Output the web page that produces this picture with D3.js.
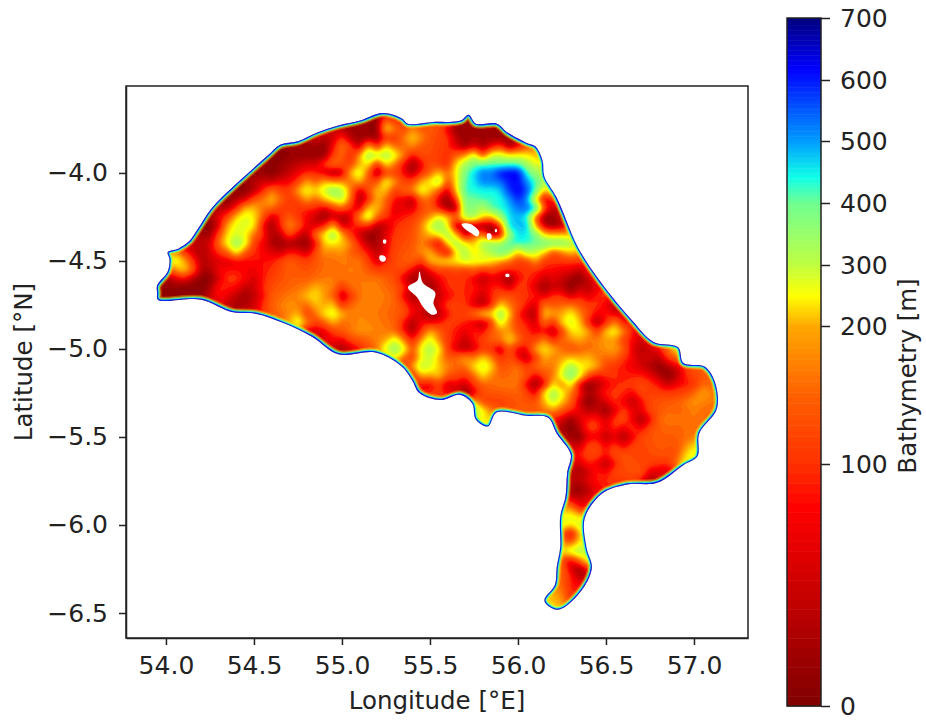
<!DOCTYPE html>
<html>
<head>
<meta charset="utf-8">
<script src="https://cdnjs.cloudflare.com/ajax/libs/d3/7.8.5/d3.min.js"></script>
<style>
  body { margin: 0; background: #fff; }
  text { font-family: "DejaVu Sans", sans-serif; fill: #222; }
  .tick text { font-size: 25px; }
  .axis-title { font-size: 24.5px; }
  .domain, .tick line { stroke: #222; stroke-width: 1.5px; }
</style>
</head>
<body>
<svg id="chart" width="926" height="722"></svg>
<script>
// Axis ticks
var lonTicks = [54.0, 54.5, 55.0, 55.5, 56.0, 56.5, 57.0];
var latTicks = [-4.0, -4.5, -5.0, -5.5, -6.0, -6.5];
var barTicks = [0, 100, 200, 300, 400, 500, 600, 700];

// Colour bar stops
var colorDepths = [0, 82, 100, 150, 200, 250, 300, 400, 442, 500, 618, 700];
var colorStops = ["#7f0000", "#ff0000", "#ff3000", "#ff6000", "#ffa800", "#ffff00", "#c0ff40", "#70ff90", "#10ffe8", "#009cff", "#0000ff", "#00007f"];

// Bank outline, lon and lat
var outlineLon = [53.95,53.95,54.01,54.02,54.01,54.07,54.13,54.18,54.26,54.38,54.49,54.58,54.65,54.75,54.86,54.98,55.11,55.23,55.34,55.375,55.52,55.61,55.68,55.72,55.76,55.88,55.94,56.05,56.10,56.14,56.15,56.22,56.34,56.47,56.65,56.77,56.91,56.94,57.06,57.12,57.13,57.03,57.02,56.94,56.79,56.62,56.48,56.38,56.39,56.42,56.37,56.26,56.21,56.15,56.21,56.22,56.24,56.24,56.27,56.28,56.30,56.22,56.17,56.05,55.88,55.83,55.76,55.74,55.67,55.56,55.44,55.40,55.34,55.19,54.98,54.83,54.66,54.51,54.375,54.20,53.955];
var outlineLat = [-4.68,-4.64,-4.56,-4.49,-4.45,-4.43,-4.39,-4.32,-4.20,-4.08,-3.98,-3.90,-3.84,-3.82,-3.77,-3.73,-3.70,-3.66,-3.69,-3.72,-3.71,-3.71,-3.70,-3.67,-3.72,-3.72,-3.77,-3.83,-3.85,-3.93,-4.02,-4.14,-4.42,-4.62,-4.84,-4.96,-4.99,-5.08,-5.10,-5.19,-5.34,-5.48,-5.61,-5.66,-5.76,-5.77,-5.82,-5.96,-6.13,-6.24,-6.36,-6.47,-6.48,-6.43,-6.34,-6.24,-6.125,-5.95,-5.84,-5.70,-5.60,-5.48,-5.39,-5.38,-5.36,-5.44,-5.40,-5.31,-5.26,-5.29,-5.25,-5.18,-5.10,-5.02,-5.03,-4.93,-4.85,-4.80,-4.79,-4.72,-4.72];

// Islands, left white in the map
var islands = [
  [[55.44,-4.56],[55.46,-4.625],[55.53,-4.68],[55.52,-4.74],[55.54,-4.795],[55.51,-4.805],[55.46,-4.76],[55.43,-4.71],[55.375,-4.65],[55.43,-4.61]],
  [[55.215,-4.47],[55.24,-4.47],[55.25,-4.49],[55.235,-4.505],[55.215,-4.495]],
  [[55.68,-4.29],[55.73,-4.29],[55.78,-4.335],[55.77,-4.36],[55.73,-4.34],[55.69,-4.31]],
  [[55.825,-4.345],[55.845,-4.345],[55.85,-4.37],[55.83,-4.38]],
  [[55.87,-4.32],[55.88,-4.32],[55.88,-4.335],[55.87,-4.335]],
  [[55.93,-4.575],[55.95,-4.575],[55.95,-4.59],[55.93,-4.59]],
  [[55.235,-4.38],[55.25,-4.38],[55.25,-4.4],[55.235,-4.4]]
];

// Depth readings in metres on a 0.1 degree grid. Each row starts at column rowStart
var gridLon0 = 53.9, gridLat0 = -3.6, gridStep = 0.1, gridCols = 34;
var rowStart = [12,12,9,7,5,4,3,2,2,1,1,0,4,9,11,14,15,16,18,23,24,24,23,23,23,23,23,23,23,23];
var depthRows = [
  [30,30,60],
  [30,20,100,140,150,140,30,30,40,70],
  [60,70,40,25,30,100,140,140,110,25,30,30,40,80],
  [25,20,20,20,130,40,280,220,140,130,100,200,200,240,260,180,180],
  [20,20,30,50,100,100,70,220,30,120,50,150,80,420,560,610,640,420,300],
  [25,25,60,130,110,190,200,300,50,220,110,200,170,40,420,450,470,590,420,300,200],
  [30,40,100,220,110,110,100,100,120,70,220,60,90,150,25,350,400,440,520,420,40,100],
  [40,20,100,260,220,40,140,70,50,70,100,40,100,130,220,350,10,240,20,480,70,25,100],
  [50,60,160,300,110,50,30,30,220,160,90,25,120,140,220,310,320,230,340,440,430,400,340,200],
  [150,180,50,60,70,90,90,150,120,160,170,170,60,130,160,220,190,250,280,200,130,110,100,110,110],
  [50,50,20,110,110,60,120,150,150,170,170,170,170,130,90,60,100,100,120,70,120,90,70,40,80,110],
  [40,15,15,20,90,60,60,150,160,200,220,150,170,180,160,70,40,110,100,70,130,110,100,110,100,90,110,100],
  [60,50,60,150,170,110,220,160,180,170,150,130,60,130,120,80,320,100,60,170,240,130,100,60,150],
  [50,70,150,190,180,160,140,210,110,70,130,170,130,80,120,220,170,200,100,70,150],
  [60,90,170,300,130,300,110,60,110,200,70,160,180,130,160,190,120,60,80,250],
  [100,90,270,180,130,270,130,170,170,170,310,220,120,90,60,40,60,150],
  [90,70,130,80,150,170,170,60,150,170,40,100,100,130,90,80,100,150],
  [130,120,40,120,120,140,140,280,160,30,110,110,120,140,150,160,170],
  [150,300,150,150,150,90,30,100,100,130,100,140,160,170,150],
  [50,50,130,110,90,130,150,150,170,170],
  [80,120,130,140,120,140,130,250],
  [60,80,120,130,140,70,60],
  [50,40,70,90,90],
  [280,90,100],
  [300,280,300],
  [280,100,280],
  [280,80,280],
  [170,110,50,120],
  [220,70,150],
  [250,200]
];

// Finer readings at 0.05 degree, lon, lat, depth
var details = [
  // north west, shallow patches
  [55.19,-3.74,10],[55.09,-3.77,20],[54.9,-3.87,10],[54.8,-3.85,20],[54.675,-3.92,10],[54.58,-4.0,10],[54.47,-4.10,10],[54.33,-4.17,10],[54.24,-4.32,10],
  [55.2,-3.81,20],[54.96,-3.98,15],[55.19,-3.98,15],[55.38,-3.97,20],[55.42,-4.15,30],[55.09,-4.13,30],[54.88,-4.27,15],[54.99,-4.27,25],[55.22,-4.28,30],[55.17,-4.34,15],
  [54.8,-4.38,15],[54.66,-4.42,20],[54.58,-4.29,25],[54.22,-4.475,30],[54.26,-4.36,20],[54.09,-4.66,5],[54.18,-4.65,5],[54.01,-4.66,15],[54.26,-4.61,10],
  [54.47,-4.68,20],[54.39,-4.76,30],[54.52,-4.72,50],[54.98,-4.72,40],[55.02,-4.99,30],[55.4,-4.88,30],
  // north west, deeper patches
  [54.98,-3.87,180],[54.94,-3.93,170],[55.16,-3.88,360],[55.26,-3.89,340],[55.26,-3.765,250],[55.39,-3.79,230],[55.08,-3.99,300],[55.225,-4.07,280],[55.43,-4.08,280],
  [54.96,-4.10,380],[54.91,-4.08,290],[55.0,-4.13,320],[54.81,-4.115,270],[54.62,-4.15,220],[55.15,-4.23,320],[54.47,-4.25,280],[54.39,-4.38,360],[54.45,-4.32,290],[54.35,-4.33,240],
  [54.95,-4.36,370],[54.885,-4.37,250],[55.0,-4.38,230],[54.695,-4.305,190],[55.55,-4.04,340],[55.55,-4.305,370],[54.12,-4.53,240],[54.04,-4.52,290],
  [54.68,-4.76,190],[54.83,-4.71,250],[54.94,-4.80,280],[54.9,-4.70,190],[55.51,-4.99,330],[55.3,-5.02,360],[55.45,-5.09,290],[54.75,-4.86,290],
  // basin
  [55.66,-3.745,15],[55.69,-3.84,20],[55.785,-3.87,25],[55.88,-3.80,15],[55.97,-3.84,15],[55.71,-3.935,330],[55.9,-3.925,300],[56.09,-3.92,220],
  [55.75,-3.95,400],[55.85,-3.95,420],[55.95,-3.95,430],[56.05,-3.95,340],[56.1,-3.95,270],[55.7,-4.0,400],[55.65,-4.0,250],
  [55.785,-4.02,540],[55.955,-4.01,640],[55.99,-4.08,640],[56.03,-4.21,550],[56.03,-4.285,500],[55.71,-4.08,440],[55.86,-4.17,430],
  [55.7,-4.2,380],[55.75,-4.25,350],[55.7,-4.25,330],[55.95,-4.25,470],[55.95,-4.3,480],[56.0,-4.35,470],[56.05,-4.35,450],[56.1,-4.35,400],[55.95,-4.4,440],[55.85,-4.42,370],[55.8,-4.42,340],[55.65,-4.4,350],
  [55.61,-4.17,15],[55.61,-4.1,40],[55.64,-4.2,10],[55.73,-4.32,5],[55.66,-4.32,10],[55.785,-4.32,10],[55.86,-4.305,15],[55.84,-4.36,5],[55.92,-4.345,50],[55.7,-4.35,20],[55.75,-4.38,40],
  [55.8,-4.25,230],[55.74,-4.41,220],[55.61,-4.275,260],[55.56,-4.39,30],[55.62,-4.47,30],[55.6,-4.34,350],[55.71,-4.455,340],[55.9,-4.455,420],[56.05,-4.42,440],[56.22,-4.41,400],
  [56.16,-4.27,10],[56.15,-4.17,40],[56.22,-4.32,10],[56.125,-4.32,40],
  // step along the south side of the basin
  [55.6,-4.5,260],[55.7,-4.5,300],[55.8,-4.5,280],[55.9,-4.5,200],[56.0,-4.5,120],[55.6,-4.55,110],[55.7,-4.55,110],[55.8,-4.55,100],[55.9,-4.55,100],[56.0,-4.55,100],[56.1,-4.45,300],[56.2,-4.45,120],
  // around the big islands
  [55.4,-4.6,20],[55.45,-4.55,30],[55.5,-4.65,20],[55.55,-4.7,50],[55.5,-4.8,20],[55.55,-4.8,40],[55.4,-4.7,30],
  // middle
  [55.78,-4.6,40],[55.94,-4.6,10],[56.125,-4.665,20],[56.33,-4.61,10],[56.28,-4.665,10],[56.39,-4.63,40],[55.775,-4.74,30],[55.775,-4.87,30],[55.405,-4.87,30],
  [55.89,-4.79,360],[55.82,-4.8,240],[55.97,-4.76,170],[56.09,-4.815,30],[56.2,-4.88,40],[56.17,-4.79,230],[56.3,-4.855,290],[56.35,-4.89,250],[56.53,-4.91,270],[56.43,-4.835,30],[56.56,-4.76,40],
  [55.94,-4.97,250],[55.72,-4.986,30],[55.88,-4.995,40],[56.05,-5.06,40],[56.16,-5.005,250],[56.57,-5.01,200],[56.69,-4.99,40],[55.785,-5.1,290],
  // south east
  [55.46,-5.11,320],[55.57,-5.13,230],[55.69,-5.06,200],[55.71,-5.24,20],[55.61,-5.195,50],[56.305,-5.14,390],[56.42,-5.08,250],[56.2,-5.26,350],[56.11,-5.205,20],[56.41,-5.21,10],[56.4,-5.28,10],
  [56.47,-5.21,40],[56.52,-5.36,15],[56.66,-5.28,40],[56.79,-5.12,15],[56.845,-5.14,10],[56.69,-5.40,30],[56.6,-5.5,30],[56.495,-5.5,40],[56.28,-5.45,5],[56.33,-5.5,10],[56.52,-5.66,40],[56.77,-5.735,30],[56.35,-5.78,15],[56.33,-5.71,30],
  [56.845,-5.385,170],[56.997,-5.29,190],[57.07,-5.27,200],[56.845,-5.555,140],[55.81,-5.4,250],[55.765,-5.365,370],[57.0,-5.59,280],[56.94,-5.63,260],
  // the narrow arm
  [56.3,-5.95,280],[56.35,-5.98,300],[56.305,-6.066,30],[56.35,-6.14,340],[56.28,-6.14,300],[56.37,-6.08,250],[56.35,-6.255,10],[56.295,-6.22,60],[56.26,-6.33,160],[56.315,-6.37,90],[56.19,-6.435,230],[56.24,-6.41,180],[56.33,-5.858,50]
];

// Define margins, the plot frame sits here in the 926x722 window
var margin = { top: 86, right: 178, bottom: 84, left: 126 },
    width = 926 - margin.left - margin.right,
    height = 722 - margin.top - margin.bottom;

// Define scales
var xScale = d3.scaleLinear().domain([53.773, 57.307]).range([0, width]);
var yScale = d3.scaleLinear().domain([-3.506, -6.642]).range([0, height]);
var color = d3.scaleLinear().domain(colorDepths).range(colorStops).clamp(true);

var svg = d3.select("#chart");
var plot = svg.append("g")
    .attr("transform", "translate(" + margin.left + "," + margin.top + ")");

// Fill the cells outside the bank so the edge does not pull the contours down
function buildGrid() {
    var rows = depthRows.length, g = new Array(rows * gridCols).fill(null);
    depthRows.forEach(function (row, j) {
        row.forEach(function (v, i) { g[j * gridCols + rowStart[j] + i] = v; });
    });
    for (var pass = 0; pass < 40; pass++) {
        var next = g.slice();
        for (var j = 0; j < rows; j++) for (var i = 0; i < gridCols; i++) {
            if (g[j * gridCols + i] !== null) continue;
            var near = [[i-1,j],[i+1,j],[i,j-1],[i,j+1]].filter(function (p) {
                return p[0] >= 0 && p[0] < gridCols && p[1] >= 0 && p[1] < rows;
            }).map(function (p) { return g[p[1] * gridCols + p[0]]; }).filter(function (v) { return v !== null; });
            if (near.length) next[j * gridCols + i] = d3.mean(near);
        }
        g = next;
    }
    return { w: gridCols, h: rows, v: g };
}

// Double the grid resolution, the new nodes sit between the readings
function doubleGrid(g) {
    var w = g.w * 2 - 1, h = g.h * 2 - 1, v = new Array(w * h);
    for (var j = 0; j < h; j++) for (var i = 0; i < w; i++) {
        var i0 = i >> 1, j0 = j >> 1, i1 = Math.min(i0 + (i & 1), g.w - 1), j1 = Math.min(j0 + (j & 1), g.h - 1);
        v[j * w + i] = (g.v[j0 * g.w + i0] + g.v[j0 * g.w + i1] + g.v[j1 * g.w + i0] + g.v[j1 * g.w + i1]) / 4;
    }
    return { w: w, h: h, v: v };
}

// A fine reading also pulls its four neighbours half way, patches are wider than one node
var half = doubleGrid(buildGrid());
var exact = new Map(), pulled = new Map();
details.forEach(function (d) {
    var i = Math.round((d[0] - gridLon0) / (gridStep / 2));
    var j = Math.round((gridLat0 - d[1]) / (gridStep / 2));
    exact.set(j * half.w + i, d[2]);
    [[i-1,j],[i+1,j],[i,j-1],[i,j+1]].forEach(function (p) {
        if (p[0] < 0 || p[0] >= half.w || p[1] < 0 || p[1] >= half.h) return;
        var n = p[1] * half.w + p[0];
        if (!pulled.has(n)) pulled.set(n, []);
        pulled.get(n).push(d[2]);
    });
});
pulled.forEach(function (vals, n) { half.v[n] = (half.v[n] + d3.mean(vals)) / 2; });
exact.forEach(function (v, n) { half.v[n] = v; });

var fine = doubleGrid(doubleGrid(half));
d3.blur2({ data: fine.v, width: fine.w, height: fine.h }, 0.8);
var fineStep = gridStep / 8;

// Contours in grid units, projected through the scales
var toScreen = d3.geoTransform({
    point: function (i, j) {
        this.stream.point(xScale(gridLon0 + (i - 0.5) * fineStep), yScale(gridLat0 - (j - 0.5) * fineStep));
    }
});
var contourPath = d3.geoPath(toScreen);
var levels = d3.range(0, 700, 10);
var contours = d3.contours().size([fine.w, fine.h]).thresholds(levels).smooth(true)(fine.v);

var outline = outlineLon.map(function (lon, k) { return [xScale(lon), yScale(outlineLat[k])]; });
var outlineLine = d3.line().curve(d3.curveCatmullRomClosed.alpha(0.5));
var outlinePath = outlineLine(outline);

svg.append("defs").append("clipPath").attr("id", "bank").append("path").attr("d", outlinePath);
var soft = svg.select("defs").append("filter").attr("id", "soft");
soft.append("feGaussianBlur").attr("stdDeviation", 0.6);

var map = plot.append("g").attr("clip-path", "url(#bank)");
map.append("g").attr("filter", "url(#soft)")
    .selectAll("path")
    .data(contours)
    .enter()
    .append("path")
    .attr("d", contourPath)
    .attr("fill", function (d) { return color(d.value); });

// Rim of the bank, the slope drops off fast from orange to blue
var rim = map.append("g").attr("filter", "url(#soft)");
[[9, 250, 0.3], [6.5, 340, 0.55], [4.5, 440, 0.8], [2.4, 620, 0.85]].forEach(function (r) {
    rim.append("path")
        .attr("d", outlinePath)
        .attr("fill", "none")
        .attr("stroke", color(r[1]))
        .attr("stroke-opacity", r[2])
        .attr("stroke-width", r[0]);
});

// Islands
var island = d3.line()
    .x(function (d) { return xScale(d[0]); })
    .y(function (d) { return yScale(d[1]); })
    .curve(d3.curveCatmullRomClosed);
plot.append("g").selectAll("path")
    .data(islands)
    .enter()
    .append("path")
    .attr("d", island)
    .attr("fill", "#fff");

// Frame and axes
plot.append("rect")
    .attr("width", width)
    .attr("height", height)
    .attr("fill", "none")
    .attr("stroke", "#222")
    .attr("stroke-width", 1.5);

plot.append("g")
    .attr("transform", "translate(0," + height + ")")
    .call(d3.axisBottom(xScale).tickValues(lonTicks).tickFormat(d3.format(".1f")).tickSize(7).tickSizeOuter(0).tickPadding(11));
plot.append("g")
    .call(d3.axisLeft(yScale).tickValues(latTicks).tickFormat(d3.format(".1f")).tickSize(7).tickSizeOuter(0).tickPadding(11));

svg.append("text")
    .attr("class", "axis-title")
    .attr("x", 437)
    .attr("y", 709)
    .attr("text-anchor", "middle")
    .text("Longitude [°E]");
svg.append("text")
    .attr("class", "axis-title")
    .attr("transform", "translate(32,362) rotate(-90)")
    .attr("text-anchor", "middle")
    .text("Latitude [°N]");

// Colour bar, spacing is not linear below 200 m
var barScale = d3.scaleLinear().domain(barTicks).range([706, 464, 326, 265, 203, 141, 80, 18]);
var barX = 787, barW = 34;
var bar = svg.append("g");
var barSteps = d3.range(0, 700, 4);
bar.selectAll("rect")
    .data(barSteps)
    .enter()
    .append("rect")
    .attr("x", barX)
    .attr("width", barW)
    .attr("y", function (d) { return barScale(d + 4); })
    .attr("height", function (d) { return barScale(d) - barScale(d + 4) + 0.5; })
    .attr("fill", function (d) { return color(d + 2); });
bar.append("rect")
    .attr("x", barX)
    .attr("y", 18)
    .attr("width", barW)
    .attr("height", 688)
    .attr("fill", "none")
    .attr("stroke", "#222")
    .attr("stroke-width", 1.5);
svg.append("g")
    .attr("transform", "translate(" + (barX + barW) + ",0)")
    .call(d3.axisRight(barScale).tickValues(barTicks).tickSize(9).tickPadding(10))
    .select(".domain").remove();

svg.append("text")
    .attr("class", "axis-title")
    .attr("transform", "translate(916,376) rotate(-90)")
    .attr("text-anchor", "middle")
    .text("Bathymetry [m]");
</script>
</body>
</html>
